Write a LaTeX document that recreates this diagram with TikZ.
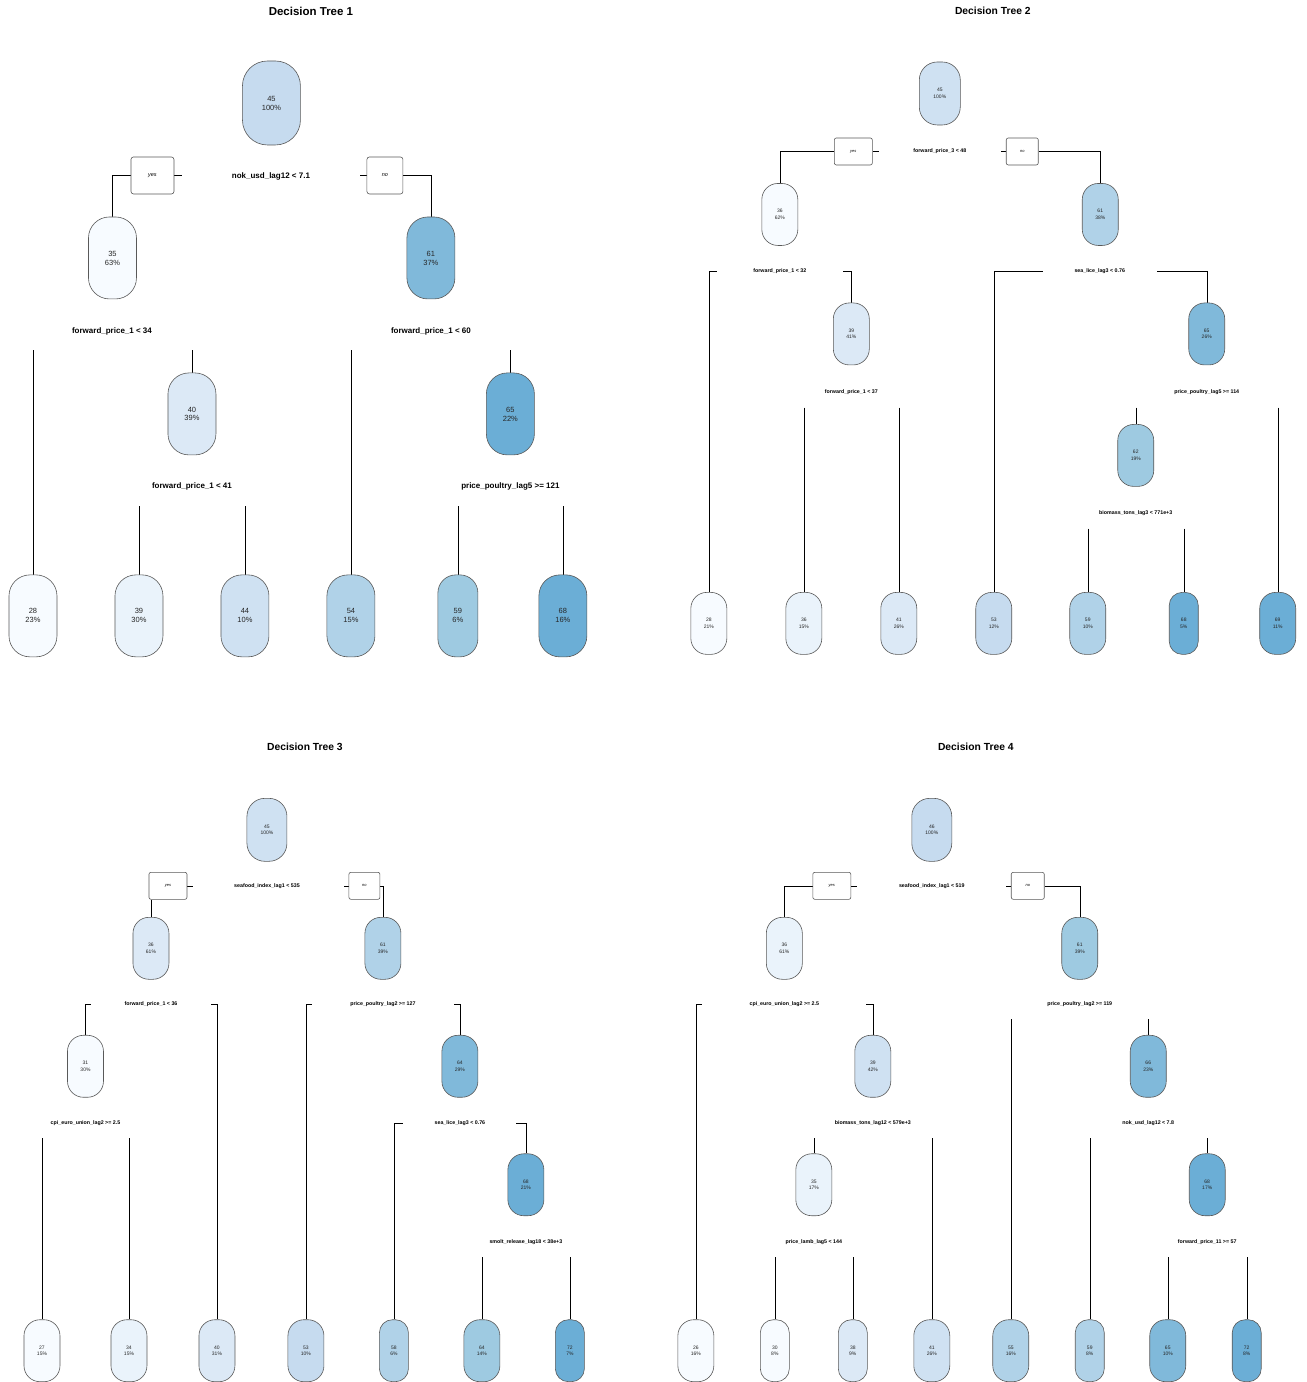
\documentclass[tikz,border=0pt]{standalone}
\usepackage{fontspec}
\setmainfont{Liberation Sans}
\usetikzlibrary{backgrounds}
\definecolor{bl1}{HTML}{F7FBFF}
\definecolor{bl2}{HTML}{EAF3FB}
\definecolor{bl3}{HTML}{DCE9F6}
\definecolor{bl4}{HTML}{CFE1F2}
\definecolor{bl5}{HTML}{C6DBEF}
\definecolor{bl6}{HTML}{B0D2E8}
\definecolor{bl7}{HTML}{9ECAE1}
\definecolor{bl8}{HTML}{80B9DA}
\definecolor{bl9}{HTML}{6BAED6}

\begin{document}
\begin{tikzpicture}[x=1pt, y=-1pt, every node/.style={align=center, inner sep=0pt},
    tnode/.style={draw=black!65, line width=0.6pt, text=black!85, rounded corners=#1},
    bignode/.style={tnode=21pt, minimum width=48pt, minimum height=82pt, font=\fontsize{7.5}{9}\selectfont},
    bigtop/.style={tnode=25pt, minimum width=58pt, minimum height=84pt, font=\fontsize{7.5}{9}\selectfont},
    smnode/.style={tnode=16pt, minimum width=36pt, minimum height=62pt, font=\fontsize{5}{6.5}\selectfont},
    smslim/.style={smnode, tnode=13pt, minimum width=29pt},
    smtop/.style={tnode=18pt, minimum width=41pt, minimum height=63pt, font=\fontsize{5}{6.5}\selectfont},
    splitbig/.style={fill=white, minimum height=38pt, font=\bfseries\fontsize{8}{9}\selectfont},
    splitsm/.style={fill=white, minimum height=31pt, font=\bfseries\fontsize{5.3}{6}\selectfont},
    ynbig/.style={draw=black!65, line width=0.6pt, rounded corners=2.5pt, minimum width=43pt, minimum height=37pt, font=\itshape\fontsize{5.5}{6}\selectfont},
    ynsm/.style={draw=black!65, line width=0.6pt, rounded corners=2pt, minimum width=38pt, minimum height=27pt, font=\itshape\fontsize{4}{5}\selectfont},
    ttl/.style={font=\bfseries\fontsize{10.3}{12}\selectfont},
    conn/.style={draw=black!70, line width=0.6pt}]

    % titles
    \node[ttl, font=\bfseries\fontsize{11.5}{13}\selectfont] (t1title) at ({311},{11}) {Decision Tree 1};
    \node[ttl] (t2title) at ({993},{11}) {Decision Tree 2};
    \node[ttl] (t3title) at ({305},{747}) {Decision Tree 3};
    \node[ttl] (t4title) at ({976},{747}) {Decision Tree 4};

    % tree 1
    \node[bigtop, fill=bl5] (t1root) at ({271.5},{103}) {45\\100\%};
    \node[splitbig] (t1s0) at ({271},{176}) {nok\_usd\_lag12 < 7.1};
    \node[ynbig] (t1yes) at ({152.5},{175.5}) {yes};
    \node[ynbig, minimum width=36pt] (t1no) at ({385},{175.5}) {no};
    \node[bignode, fill=bl1] (t1a) at ({112.5},{258}) {35\\63\%};
    \node[bignode, fill=bl8] (t1b) at ({431},{258}) {61\\37\%};
    \node[splitbig] (t1s1) at ({112},{331}) {forward\_price\_1 < 34};
    \node[splitbig] (t1s2) at ({431},{331}) {forward\_price\_1 < 60};
    \node[bignode, fill=bl3] (t1c) at ({192},{414}) {40\\39\%};
    \node[bignode, fill=bl9] (t1d) at ({510.5},{414}) {65\\22\%};
    \node[splitbig] (t1s3) at ({192},{487}) {forward\_price\_1 < 41};
    \node[splitbig] (t1s4) at ({510.5},{487}) {price\_poultry\_lag5 >= 121};
    \node[bignode, fill=bl1] (t1l1) at ({33},{616}) {28\\23\%};
    \node[bignode, fill=bl2] (t1l2) at ({139},{616}) {39\\30\%};
    \node[bignode, fill=bl4] (t1l3) at ({245},{616}) {44\\10\%};
    \node[bignode, fill=bl6] (t1l4) at ({351},{616}) {54\\15\%};
    \node[bignode, fill=bl7, minimum width=40pt, tnode=18pt] (t1l5) at ({458},{616}) {59\\6\%};
    \node[bignode, fill=bl9] (t1l6) at ({563},{616}) {68\\16\%};

    % tree 2
    \node[smtop, fill=bl4] (t2root) at ({940},{93.5}) {45\\100\%};
    \node[splitsm] (t2s0) at ({940},{151}) {forward\_price\_3 < 48};
    \node[ynsm] (t2yes) at ({853.5},{151.5}) {yes};
    \node[ynsm, minimum width=32pt] (t2no) at ({1022.5},{151.5}) {no};
    \node[smnode, fill=bl1] (t2a) at ({780},{214.5}) {36\\62\%};
    \node[smnode, fill=bl6] (t2b) at ({1100.5},{214.5}) {61\\38\%};
    \node[splitsm, minimum width=126pt] (t2s1) at ({780},{271}) {forward\_price\_1 < 32};
    \node[splitsm, minimum width=114pt] (t2s2) at ({1100},{271}) {sea\_lice\_lag3 < 0.76};
    \node[smnode, fill=bl3] (t2c) at ({851.5},{334}) {39\\41\%};
    \node[smnode, fill=bl8] (t2d) at ({1207},{334}) {65\\26\%};
    \node[splitsm] (t2s3) at ({851.5},{392}) {forward\_price\_1 < 37};
    \node[splitsm] (t2s4) at ({1207},{392}) {price\_poultry\_lag5 >= 114};
    \node[smnode, fill=bl7] (t2e) at ({1136},{455.5}) {62\\19\%};
    \node[splitsm] (t2s5) at ({1136},{513}) {biomass\_tons\_lag3 < 771e+3};
    \node[smnode, fill=bl1] (t2l1) at ({709},{623.5}) {28\\21\%};
    \node[smnode, fill=bl2] (t2l2) at ({804},{623.5}) {36\\15\%};
    \node[smnode, fill=bl3] (t2l3) at ({899},{623.5}) {41\\26\%};
    \node[smnode, fill=bl5] (t2l4) at ({994},{623.5}) {53\\12\%};
    \node[smnode, fill=bl6] (t2l5) at ({1088},{623.5}) {59\\10\%};
    \node[smslim, fill=bl9] (t2l6) at ({1184},{623.5}) {68\\5\%};
    \node[smnode, fill=bl9] (t2l7) at ({1278},{623.5}) {69\\11\%};

    % tree 3
    \node[smtop, fill=bl4, minimum width=40pt] (t3root) at ({267},{830}) {45\\100\%};
    \node[splitsm] (t3s0) at ({267},{886}) {seafood\_index\_lag1 < 535};
    \node[ynsm] (t3yes) at ({168},{886}) {yes};
    \node[ynsm, minimum width=31pt] (t3no) at ({364.5},{886}) {no};
    \node[smnode, fill=bl3] (t3a) at ({151},{948.5}) {36\\61\%};
    \node[smnode, fill=bl6] (t3b) at ({383},{948.5}) {61\\39\%};
    \node[splitsm, minimum width=120pt] (t3s1) at ({151},{1004}) {forward\_price\_1 < 36};
    \node[splitsm, minimum width=142pt] (t3s2) at ({383},{1004}) {price\_poultry\_lag2 >= 127};
    \node[smnode, fill=bl1] (t3c) at ({85.5},{1066.5}) {31\\30\%};
    \node[smnode, fill=bl8] (t3d) at ({460},{1066.5}) {64\\29\%};
    \node[splitsm] (t3s3) at ({85.5},{1123}) {cpi\_euro\_union\_lag2 >= 2.5};
    \node[splitsm, minimum width=113pt] (t3s4) at ({460},{1123}) {sea\_lice\_lag3 < 0.76};
    \node[smnode, fill=bl9] (t3e) at ({526},{1185}) {68\\21\%};
    \node[splitsm] (t3s5) at ({526},{1242}) {smolt\_release\_lag18 < 38e+3};
    \node[smnode, fill=bl1] (t3l1) at ({42},{1351}) {27\\15\%};
    \node[smnode, fill=bl2] (t3l2) at ({129},{1351}) {34\\15\%};
    \node[smnode, fill=bl3] (t3l3) at ({217},{1351}) {40\\31\%};
    \node[smnode, fill=bl5] (t3l4) at ({306},{1351}) {53\\10\%};
    \node[smslim, fill=bl6] (t3l5) at ({394},{1351}) {58\\6\%};
    \node[smnode, fill=bl7] (t3l6) at ({482},{1351}) {64\\14\%};
    \node[smslim, fill=bl9] (t3l7) at ({570},{1351}) {72\\7\%};

    % tree 4
    \node[smtop, fill=bl5, minimum width=40pt] (t4root) at ({932},{830}) {46\\100\%};
    \node[splitsm] (t4s0) at ({932},{886}) {seafood\_index\_lag1 < 519};
    \node[ynsm] (t4yes) at ({832},{886}) {yes};
    \node[ynsm, minimum width=33pt] (t4no) at ({1028},{886}) {no};
    \node[smnode, fill=bl2] (t4a) at ({784.5},{948.5}) {36\\61\%};
    \node[smnode, fill=bl7] (t4b) at ({1080},{948.5}) {61\\39\%};
    \node[splitsm, minimum width=164pt] (t4s1) at ({784.5},{1004}) {cpi\_euro\_union\_lag2 >= 2.5};
    \node[splitsm] (t4s2) at ({1080},{1004}) {price\_poultry\_lag2 >= 119};
    \node[smnode, fill=bl4] (t4c) at ({873},{1066.5}) {39\\42\%};
    \node[smnode, fill=bl8] (t4d) at ({1148.5},{1066.5}) {66\\23\%};
    \node[splitsm] (t4s3) at ({873},{1123}) {biomass\_tons\_lag12 < 579e+3};
    \node[splitsm] (t4s4) at ({1148.5},{1123}) {nok\_usd\_lag12 < 7.8};
    \node[smnode, fill=bl2] (t4e) at ({814},{1185}) {35\\17\%};
    \node[smnode, fill=bl9] (t4f) at ({1207.5},{1185}) {68\\17\%};
    \node[splitsm] (t4s5) at ({814},{1242}) {price\_lamb\_lag5 < 144};
    \node[splitsm] (t4s6) at ({1207.5},{1242}) {forward\_price\_11 >= 57};
    \node[smnode, fill=bl1] (t4l1) at ({696},{1351}) {26\\16\%};
    \node[smslim, fill=bl1] (t4l2) at ({775},{1351}) {30\\8\%};
    \node[smslim, fill=bl3] (t4l3) at ({853},{1351}) {38\\9\%};
    \node[smnode, fill=bl4] (t4l4) at ({932},{1351}) {41\\26\%};
    \node[smnode, fill=bl6] (t4l5) at ({1011},{1351}) {55\\16\%};
    \node[smslim, fill=bl6] (t4l6) at ({1090},{1351}) {59\\8\%};
    \node[smnode, fill=bl8] (t4l7) at ({1168},{1351}) {65\\10\%};
    \node[smslim, fill=bl9] (t4l8) at ({1247},{1351}) {72\\8\%};

    \begin{scope}[on background layer, conn]
        \path[use as bounding box, fill=white, draw=none] ({0},{0}) rectangle ({1307},{1382});

        % tree 1 branches
        \draw (t1yes.east) -- ++(8,0);
        \draw (t1no.west) -- ++(-7,0);
        \draw (t1yes.west) -| (t1a.north);
        \draw (t1no.east) -| (t1b.north);
        \draw (t1s1.south -| t1l1.north) -- (t1l1.north);
        \draw (t1s1.south -| t1c.north) -- (t1c.north);
        \draw (t1s2.south -| t1l4.north) -- (t1l4.north);
        \draw (t1s2.south -| t1d.north) -- (t1d.north);
        \draw (t1s3.south -| t1l2.north) -- (t1l2.north);
        \draw (t1s3.south -| t1l3.north) -- (t1l3.north);
        \draw (t1s4.south -| t1l5.north) -- (t1l5.north);
        \draw (t1s4.south -| t1l6.north) -- (t1l6.north);

        % tree 2 branches
        \draw (t2yes.east) -- ++(6,0);
        \draw (t2no.west) -- ++(-5,0);
        \draw (t2yes.west) -| (t2a.north);
        \draw (t2no.east) -| (t2b.north);
        \draw (t2l1.north) |- (t2s1.center) -| (t2c.north);
        \draw (t2l4.north) |- (t2s2.center) -| (t2d.north);
        \draw (t2s3.south -| t2l2.north) -- (t2l2.north);
        \draw (t2s3.south -| t2l3.north) -- (t2l3.north);
        \draw (t2s4.south -| t2e.north) -- (t2e.north);
        \draw (t2s4.south -| t2l7.north) -- (t2l7.north);
        \draw (t2s5.south -| t2l5.north) -- (t2l5.north);
        \draw (t2s5.south -| t2l6.north) -- (t2l6.north);

        % tree 3 branches
        \draw (t3yes.east) -- ++(6,0);
        \draw (t3no.west) -- ++(-5,0);
        \draw (t3a.north |- t3yes.south) -- (t3a.north);
        \draw (t3no.east) -| (t3b.north);
        \draw (t3c.north) |- (t3s1.center) -| (t3l3.north);
        \draw (t3l4.north) |- (t3s2.center) -| (t3d.north);
        \draw (t3s3.south -| t3l1.north) -- (t3l1.north);
        \draw (t3s3.south -| t3l2.north) -- (t3l2.north);
        \draw (t3l5.north) |- (t3s4.center) -| (t3e.north);
        \draw (t3s5.south -| t3l6.north) -- (t3l6.north);
        \draw (t3s5.south -| t3l7.north) -- (t3l7.north);

        % tree 4 branches
        \draw (t4yes.east) -- ++(6,0);
        \draw (t4no.west) -- ++(-5,0);
        \draw (t4yes.west) -| (t4a.north);
        \draw (t4no.east) -| (t4b.north);
        \draw (t4l1.north) |- (t4s1.center) -| (t4c.north);
        \draw (t4s2.south -| t4l5.north) -- (t4l5.north);
        \draw (t4s2.south -| t4d.north) -- (t4d.north);
        \draw (t4s3.south -| t4e.north) -- (t4e.north);
        \draw (t4s3.south -| t4l4.north) -- (t4l4.north);
        \draw (t4s4.south -| t4l6.north) -- (t4l6.north);
        \draw (t4s4.south -| t4f.north) -- (t4f.north);
        \draw (t4s5.south -| t4l2.north) -- (t4l2.north);
        \draw (t4s5.south -| t4l3.north) -- (t4l3.north);
        \draw (t4s6.south -| t4l7.north) -- (t4l7.north);
        \draw (t4s6.south -| t4l8.north) -- (t4l8.north);
    \end{scope}
\end{tikzpicture}
\end{document}
